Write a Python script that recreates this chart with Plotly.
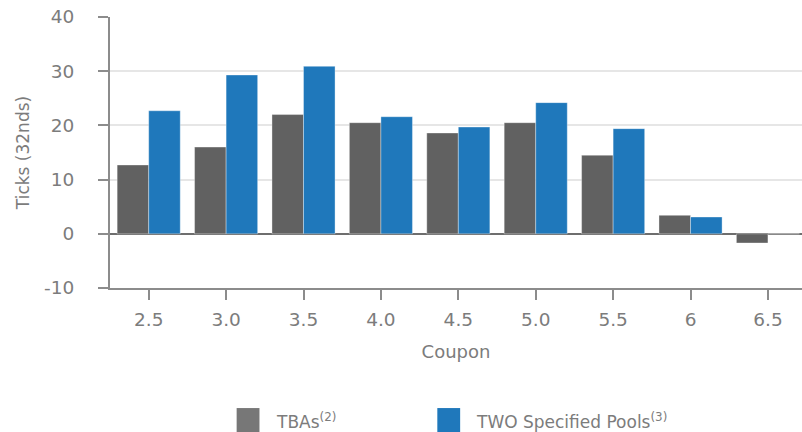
import plotly.graph_objects as go

coupons = ["2.5", "3.0", "3.5", "4.0", "4.5", "5.0", "5.5", "6", "6.5"]
tba_ticks = [12.7, 16.0, 22.0, 20.5, 18.6, 20.5, 14.5, 3.4, -1.7]
two_pool_ticks = [22.7, 29.3, 30.9, 21.6, 19.7, 24.2, 19.4, 3.1, 0.0]
y_ticks = [-10, 0, 10, 20, 30, 40]
y_tick_labels = ["-10", "0", "10", "20", "30", "40"]

GRAY = "#616161"
BLUE = "#1f78bb"
TEXT = "#7c7c7c"
AXIS = "#8c8c8c"
FONT = "DejaVu Sans, Verdana, sans-serif"

fig = go.Figure()
fig.add_trace(go.Bar(
    x=coupons, y=tba_ticks, name="TBAs<sup>(2)</sup>",
    marker=dict(color=GRAY, line=dict(color="rgba(255,255,255,0.35)", width=1)),
    showlegend=False,
))
fig.add_trace(go.Bar(
    x=coupons, y=two_pool_ticks, name="TWO Specified Pools<sup>(3)</sup>",
    marker=dict(color=BLUE, line=dict(color="rgba(255,255,255,0.35)", width=1)),
    showlegend=False,
))

# hand-placed legend below the axis title
legend_items = [("TBAs<sup>(2)</sup>", "#777777", 0.183), ("TWO Specified Pools<sup>(3)</sup>", BLUE, 0.473)]
for label, color, x0 in legend_items:
    fig.add_shape(type="rect", xref="paper", yref="paper",
                  x0=x0, x1=x0 + 0.033, y0=-0.54, y1=-0.443,
                  fillcolor=color, line=dict(width=0))
    fig.add_annotation(text=label, xref="paper", yref="paper",
                       x=x0 + 0.0535, y=-0.49, xanchor="left", yanchor="middle",
                       showarrow=False, font=dict(size=17, color=TEXT, family=FONT))

fig.update_layout(
    width=802, height=432,
    margin=dict(l=110, r=0, t=17, b=144),
    paper_bgcolor="white", plot_bgcolor="white",
    barmode="group", bargap=0.185, bargroupgap=0,
    font=dict(family=FONT, color=TEXT),
    xaxis=dict(
        type="category", range=[-0.5, 8.44],
        showline=True, linecolor=AXIS, linewidth=2,
        ticks="outside", ticklen=10, tickwidth=2, tickcolor=AXIS,
        tickfont=dict(size=18.5, color=TEXT),
        ticklabelstandoff=4,
        showgrid=False,
        title=dict(text="Coupon", font=dict(size=18, color=TEXT), standoff=16),
    ),
    yaxis=dict(
        range=[-10, 40], tickvals=y_ticks, ticktext=y_tick_labels,
        showline=True, linecolor=AXIS, linewidth=2,
        ticks="outside", ticklen=10, tickwidth=2, tickcolor=AXIS,
        tickfont=dict(size=18.5, color=TEXT),
        ticklabelstandoff=20,
        showgrid=True, gridcolor="#e6e6e6", gridwidth=2,
        zeroline=True, zerolinecolor="#6e6e6e", zerolinewidth=2,
        title=dict(text="Ticks (32nds)", font=dict(size=17, color=TEXT), standoff=10),
    ),
)

fig.write_html("out.html")
